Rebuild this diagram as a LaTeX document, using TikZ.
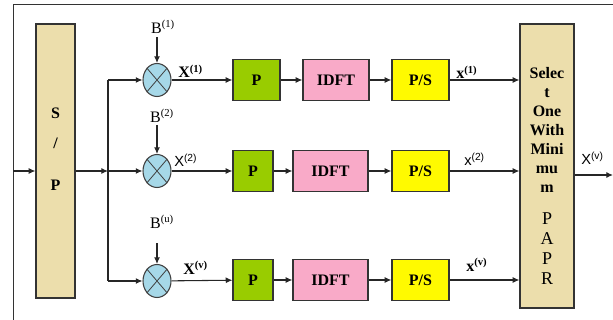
\documentclass[tikz,border=0pt]{standalone}
\usepackage{xcolor}
\usepackage{fontspec}
\setmainfont{Liberation Serif}
\setsansfont{Liberation Sans}
\usepackage{tikz}
\usetikzlibrary{arrows.meta,shapes.geometric}

\definecolor{tanfill}{RGB}{236,222,172}
\definecolor{pfill}{RGB}{153,204,0}
\definecolor{idftfill}{RGB}{249,170,200}
\definecolor{psfill}{RGB}{255,250,0}
\definecolor{mixfill}{RGB}{166,216,232}

\begin{document}
\begin{tikzpicture}[x=0.75pt,y=0.75pt,yscale=-1,xscale=1,
  >={Latex[length=5pt,width=4.5pt]},
  conn/.style={draw=black!85,line width=0.8pt,->},
  blk/.style={draw=black!80,line width=0.9pt,inner sep=0pt,minimum height=30.75pt,font=\fontsize{12}{14}\selectfont\bfseries},
  pblk/.style={blk,fill=pfill,minimum width=30pt},
  idftblk/.style={blk,fill=idftfill,minimum width=56.25pt},
  psblk/.style={blk,fill=psfill,minimum width=42.75pt},
  tallblk/.style={draw=black!80,line width=0.9pt,fill=tanfill,inner sep=0pt},
  mixer/.style={ellipse,draw=black!75,line width=0.8pt,fill=mixfill,inner sep=0pt,minimum width=21pt,minimum height=24.75pt},
  serlbl/.style={inner sep=0.75pt,font=\fontsize{12}{14}\selectfont},
  boldlbl/.style={inner sep=0.75pt,font=\fontsize{12}{14}\selectfont\bfseries},
  sanslbl/.style={inner sep=0.75pt,font=\fontsize{11}{13}\selectfont\sffamily}]
\useasboundingbox (0,0) rectangle (613,320);

%Frame lines
\draw [black!80,line width=0.75pt] (13,320) -- (13,5) -- (613,5) ;

%S/P block
\node [tallblk,minimum width=29.25pt,minimum height=205.5pt] (sp) at (55.5,161) {};
% Text Node
\node [boldlbl] (sps) at (55.5,113) {S};
\node [boldlbl] (spslash) at (55.5,143) {/};
\node [boldlbl] (spp) at (55.5,185) {P};

%Select block
\node [tallblk,minimum width=40.5pt,minimum height=213pt] (sel) at (547,166) {};
% Text Node
\node [boldlbl,align=center,font=\fontsize{12}{14.25}\selectfont\bfseries] (seltxt) at (547,130) {Selec\\t\\One\\With\\Mini\\mu\\m};
% Text Node
\node [serlbl,align=center,font=\fontsize{13.5}{15}\selectfont] (papr) at (547,249) {P\\A\\P\\R};

%Mixers
\node [mixer] (m1) at (157,80) {};
\node [mixer] (m2) at (157,171) {};
\node [mixer] (m3) at (157,281) {};
\foreach \m in {m1,m2,m3}
  \draw [black!75,line width=0.6pt] (\m.north west) -- (\m.south east) (\m.north east) -- (\m.south west) ;

%Row blocks
\node [pblk,minimum width=35.25pt] (p1) at (256.5,80) {P};
\node [idftblk,minimum width=49.5pt] (idft1) at (336,80) {IDFT};
\node [psblk] (ps1) at (420.5,80) {P/S};

\node [pblk] (p2) at (253,171) {P};
\node [idftblk] (idft2) at (330.5,171) {IDFT};
\node [psblk] (ps2) at (420.5,171) {P/S};

\node [pblk] (p3) at (253,280) {P};
\node [idftblk] (idft3) at (330.5,280) {IDFT};
\node [psblk] (ps3) at (420.5,280) {P/S};

%B labels
\node [serlbl] (b1) at (163,27) {B\textsuperscript{(1)}};
\node [serlbl] (b2) at (162,116) {B\textsuperscript{(2)}};
\node [serlbl] (b3) at (162,222) {B\textsuperscript{(u)}};
\coordinate (bt1) at (157,37);
\coordinate (bt2) at (157,125);
\coordinate (bt3) at (157,243);

%Bus
\coordinate (in) at (13,171);
\coordinate (bus1) at (108,80);
\coordinate (bus2) at (108,171);
\coordinate (bus3) at (108,281);
\coordinate (out) at (613,175);

%Straight Lines
\draw [conn] (in) -- (sp.west |- in) ;
\draw [conn] (sp.east |- bus2) -- (bus2) ;
\draw [draw=black!85,line width=0.8pt] (bus1) -- (bus3) ;
\draw [conn] (bus1) -- (m1) ;
\draw [conn] (bus2) -- (m2) ;
\draw [conn] (bus3) -- (m3) ;
\draw [conn] (bt1) -- (m1) ;
\draw [conn] (bt2) -- (m2) ;
\draw [conn] (bt3) -- (m3) ;
\draw [conn] (m1) -- (p1) ;
\draw [conn] (m2) -- (p2) ;
\draw [conn] (m3) -- (p3) ;
\draw [conn] (p1) -- (idft1) ;
\draw [conn] (p2) -- (idft2) ;
\draw [conn] (p3) -- (idft3) ;
\draw [conn] (idft1) -- (ps1) ;
\draw [conn] (idft2) -- (ps2) ;
\draw [conn] (idft3) -- (ps3) ;
\draw [conn] (ps1) -- (sel.west |- ps1) ;
\draw [conn] (ps2) -- (sel.west |- ps2) ;
\draw [conn] (ps3) -- (sel.west |- ps3) ;
\draw [conn] (sel.east |- out) -- (out) ;

% Text Node
\node [boldlbl,anchor=base west] (xa1) at (177,78) {X\textsuperscript{(1)}};
\node [sanslbl,anchor=base west] (xa2) at (173,167) {X\textsuperscript{(2)}};
\node [boldlbl,anchor=base west] (xa3) at (182,274) {X\textsuperscript{(v)}};
\node [boldlbl,anchor=base west] (xb1) at (455,79) {x\textsuperscript{(1)}};
\node [sanslbl,anchor=base west] (xb2) at (463,166) {x\textsuperscript{(2)}};
\node [boldlbl,anchor=base west] (xb3) at (465,271) {x\textsuperscript{(v)}};
\node [sanslbl,anchor=base west] (xout) at (580,165) {X\textsuperscript{(v)}};

\end{tikzpicture}
\end{document}
